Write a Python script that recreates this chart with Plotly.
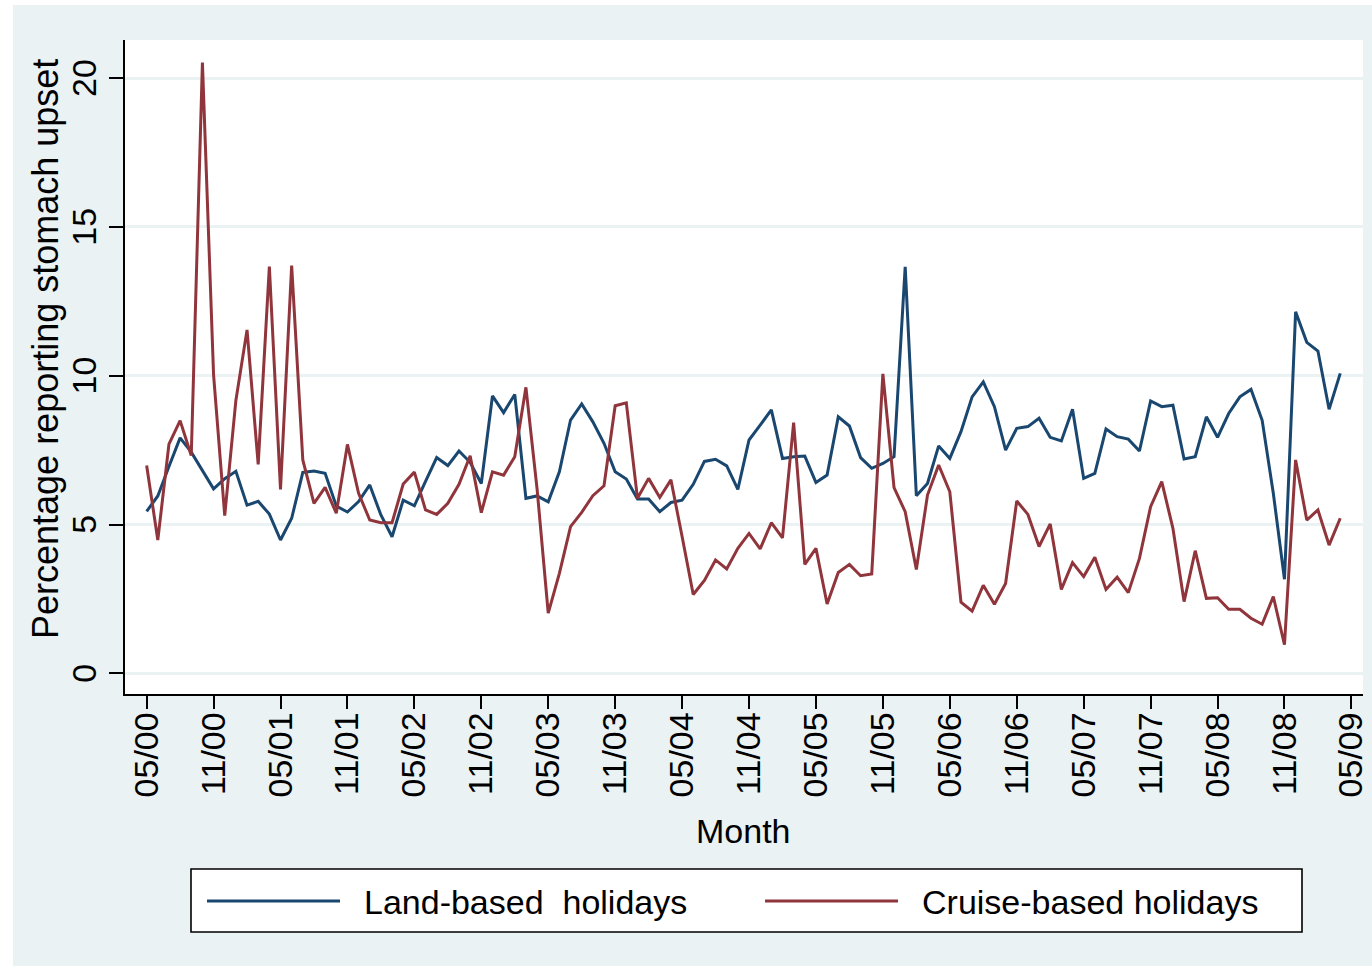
import plotly.graph_objects as go

# ---------------- data ----------------
series_names = ["Land-based\u00a0 holidays", "Cruise-based holidays"]

land = [5.44, 5.96, 6.95, 7.91, 7.43, 6.81, 6.20, 6.54, 6.79, 5.65,
        5.78, 5.35, 4.48, 5.21, 6.75, 6.80, 6.72, 5.62, 5.42, 5.77,
        6.33, 5.32, 4.59, 5.82, 5.63, 6.45, 7.25, 6.98, 7.47, 7.09,
        6.38, 9.32, 8.76, 9.37, 5.88, 5.96, 5.76, 6.77, 8.51, 9.05,
        8.45, 7.73, 6.77, 6.53, 5.86, 5.86, 5.43, 5.74, 5.82, 6.35,
        7.12, 7.19, 6.97, 6.18, 7.84, 8.34, 8.85, 7.22, 7.28, 7.30,
        6.41, 6.66, 8.62, 8.31, 7.25, 6.89, 7.05, 7.28, 13.66, 5.97,
        6.38, 7.64, 7.22, 8.12, 9.29, 9.79, 8.96, 7.50, 8.23, 8.29,
        8.57, 7.93, 7.81, 8.87, 6.55, 6.72, 8.21, 7.95, 7.87, 7.47,
        9.15, 8.96, 9.01, 7.20, 7.28, 8.62, 7.93, 8.73, 9.29, 9.54,
        8.50, 6.05, 3.16, 12.15, 11.12, 10.83, 8.87, 10.08]

cruise = [6.98, 4.48, 7.70, 8.49, 7.32, 20.52, 10.03, 5.30, 9.17, 11.54,
          7.02, 13.67, 6.18, 13.70, 7.17, 5.71, 6.25, 5.38, 7.69, 6.05,
          5.15, 5.06, 5.06, 6.36, 6.76, 5.49, 5.34, 5.71, 6.35, 7.31,
          5.40, 6.77, 6.66, 7.28, 9.61, 6.20, 2.02, 3.36, 4.93, 5.41,
          5.97, 6.30, 8.99, 9.09, 5.88, 6.55, 5.91, 6.50, 4.60, 2.65,
          3.12, 3.81, 3.51, 4.20, 4.70, 4.18, 5.06, 4.55, 8.42, 3.66,
          4.20, 2.33, 3.39, 3.66, 3.28, 3.34, 10.06, 6.24, 5.43, 3.49,
          5.99, 7.00, 6.10, 2.39, 2.09, 2.96, 2.32, 3.02, 5.79, 5.34,
          4.26, 5.02, 2.82, 3.72, 3.25, 3.90, 2.82, 3.23, 2.71, 3.86,
          5.60, 6.44, 4.87, 2.41, 4.12, 2.52, 2.54, 2.15, 2.15, 1.85,
          1.65, 2.58, 0.96, 7.17, 5.15, 5.49, 4.31, 5.21]

month_index = list(range(len(land)))  # month 0 = May 2000

x_tick_labels = ["05/00", "11/00", "05/01", "11/01", "05/02", "11/02",
                 "05/03", "11/03", "05/04", "11/04", "05/05", "11/05",
                 "05/06", "11/06", "05/07", "11/07", "05/08", "11/08", "05/09"]
x_tick_months = [6 * k for k in range(len(x_tick_labels))]
y_tick_values = [0, 5, 10, 15, 20]

y_title = "Percentage reporting stomach upset"
x_title = "Month"

# ---------------- style ----------------
BG = "#EAF2F3"
NAVY = "#1A476F"
MAROON = "#90353B"
FONT = "Liberation Sans, Arial, sans-serif"
FS = 34

W, H = 1372, 970
L, R, T, B = 125, 9, 40, 276
pw, ph = W - L - R, H - T - B


def px_x(p):
    return (p - L) / pw


def px_y(p):
    return (H - B - p) / ph


fig = go.Figure()
fig.add_trace(go.Scatter(x=month_index, y=land, mode="lines", name=series_names[0],
                         line=dict(color=NAVY, width=3), showlegend=False))
fig.add_trace(go.Scatter(x=month_index, y=cruise, mode="lines", name=series_names[1],
                         line=dict(color=MAROON, width=3), showlegend=False))

fig.update_layout(
    width=W, height=H,
    margin=dict(l=L, r=R, t=T, b=B, pad=0, autoexpand=False),
    paper_bgcolor=BG, plot_bgcolor="white",
    font=dict(family=FONT, size=FS, color="black"),
    showlegend=False,
)

fig.update_xaxes(
    range=[-1.94, 109.04], tickmode="array", tickvals=x_tick_months, ticktext=x_tick_labels,
    tickangle=-90, ticks="outside", ticklen=13, tickwidth=1.5, tickcolor="black",
    showline=True, linecolor="black", linewidth=1.5, showgrid=False, zeroline=False,
    tickfont=dict(family=FONT, size=FS, color="black"), ticklabelstandoff=-10,
    ticklabeloverflow="allow", automargin=False,
)
fig.update_yaxes(
    range=[-0.695, 21.28], tickmode="array", tickvals=y_tick_values,
    tickangle=-90, ticks="outside", ticklen=14, tickwidth=1.5, tickcolor="black",
    showline=True, linecolor="black", linewidth=1.5, showgrid=True,
    gridcolor=BG, gridwidth=2.5, zeroline=False,
    tickfont=dict(family=FONT, size=FS, color="black"), ticklabelstandoff=0,
    ticklabelshift=5, ticklabeloverflow="allow", automargin=False,
)

shapes = []
# thin white page border (top / left / bottom)
shapes.append(dict(type="rect", xref="paper", yref="paper", x0=px_x(-5), x1=px_x(W + 5),
                   y0=px_y(5), y1=px_y(-5), fillcolor="white", line=dict(width=0), layer="above"))
shapes.append(dict(type="rect", xref="paper", yref="paper", x0=px_x(-5), x1=px_x(13),
                   y0=px_y(H + 5), y1=px_y(-5), fillcolor="white", line=dict(width=0), layer="above"))
shapes.append(dict(type="rect", xref="paper", yref="paper", x0=px_x(-5), x1=px_x(W + 5),
                   y0=px_y(H + 5), y1=px_y(966), fillcolor="white", line=dict(width=0), layer="above"))
# legend box
shapes.append(dict(type="rect", xref="paper", yref="paper", x0=px_x(191), x1=px_x(1302),
                   y0=px_y(932), y1=px_y(869), fillcolor="white",
                   line=dict(color="black", width=1.6), layer="above"))
# legend line samples
shapes.append(dict(type="line", xref="paper", yref="paper", x0=px_x(207), x1=px_x(340),
                   y0=px_y(901), y1=px_y(901), line=dict(color=NAVY, width=3), layer="above"))
shapes.append(dict(type="line", xref="paper", yref="paper", x0=px_x(765), x1=px_x(898),
                   y0=px_y(901), y1=px_y(901), line=dict(color=MAROON, width=3), layer="above"))

annotations = [
    dict(text=y_title, xref="paper", yref="paper", x=px_x(45), y=px_y(349),
         textangle=-90, showarrow=False, xanchor="center", yanchor="middle",
         font=dict(family=FONT, size=36, color="black")),
    dict(text=x_title, xref="paper", yref="paper", x=px_x(743), y=px_y(831),
         showarrow=False, xanchor="center", yanchor="middle",
         font=dict(family=FONT, size=FS, color="black")),
    dict(text=series_names[0], xref="paper", yref="paper", x=px_x(362), y=px_y(902),
         showarrow=False, xanchor="left", yanchor="middle",
         font=dict(family=FONT, size=FS, color="black")),
    dict(text=series_names[1], xref="paper", yref="paper", x=px_x(920), y=px_y(902),
         showarrow=False, xanchor="left", yanchor="middle",
         font=dict(family=FONT, size=FS, color="black")),
]

fig.update_layout(shapes=shapes, annotations=annotations)

fig.write_html("out.html", config={"displayModeBar": False},
               post_script="document.body.style.margin='0';")
